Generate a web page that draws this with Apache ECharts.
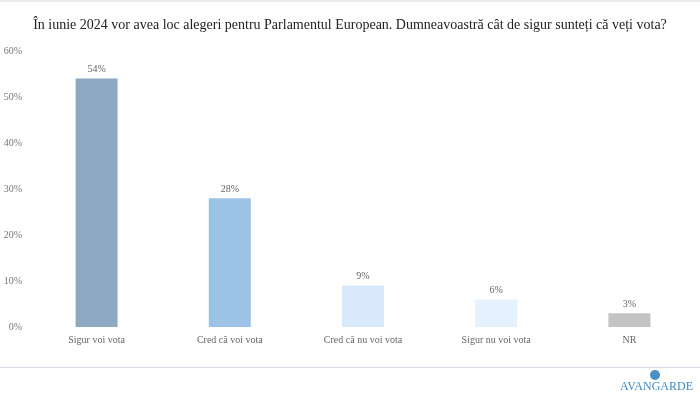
<!DOCTYPE html>
<html><head><meta charset="utf-8">
<script src="https://cdn.jsdelivr.net/npm/echarts@6/dist/echarts.min.js"></script>
<style>html,body{margin:0;padding:0;background:#fff}#c{width:700px;height:394px}</style>
</head><body><div id="c"></div>
<script>
const titleText = 'În iunie 2024 vor avea loc alegeri pentru Parlamentul European. Dumneavoastră cât de sigur sunteți că veți vota?';
const categories = ['Sigur voi vota', 'Cred că voi vota', 'Cred că nu voi vota', 'Sigur nu voi vota', 'NR'];
const values = [54, 28, 9, 6, 3];
const barColors = ['#8eaac3', '#9cc2e5', '#d9e9fb', '#e5f1fc', '#c3c3c3'];
const yTicks = [0, 10, 20, 30, 40, 50, 60];

const chart = echarts.init(document.getElementById('c'), null, {renderer: 'canvas'});
const serif = '"Liberation Serif", "DejaVu Serif", serif';
chart.setOption({
  animation: false,
  title: {
    text: titleText, left: 'center', top: 13,
    textStyle: {fontFamily: serif, fontSize: 14, fontWeight: 'normal', color: '#222'}
  },
  grid: {left: 30, right: 4, top: 51, bottom: 67, containLabel: false},
  xAxis: {
    type: 'category', data: categories,
    axisLine: {show: false}, axisTick: {show: false},
    axisLabel: {fontFamily: serif, fontSize: 10, color: '#666', margin: 8}
  },
  yAxis: {
    type: 'value', min: yTicks[0], max: yTicks[yTicks.length - 1], interval: 10,
    splitLine: {show: false}, axisLine: {show: false}, axisTick: {show: false},
    axisLabel: {fontFamily: serif, fontSize: 10, color: '#777', formatter: '{value}%', margin: 8}
  },
  series: [{
    type: 'bar', barWidth: 42,
    data: values.map((v, i) => ({value: v, itemStyle: {color: barColors[i]}})),
    label: {show: true, position: 'top', formatter: '{c}%', fontFamily: serif, fontSize: 10, color: '#666', distance: 4}
  }],
  graphic: [
    {type: 'rect', shape: {x: 0, y: 0, width: 700, height: 2}, style: {fill: '#ececec'}},
    {type: 'line', shape: {x1: 0, y1: 367.5, x2: 700, y2: 367.5}, style: {stroke: '#dcdce8', lineWidth: 1}},
    {type: 'circle', shape: {cx: 655, cy: 375, r: 5}, style: {fill: '#4a90c8'}},
    {type: 'text', right: 7, top: 381, style: {text: 'AVANGARDE', font: '12px ' + serif, fill: '#3f8ac4'}}
  ]
});
</script></body></html>
